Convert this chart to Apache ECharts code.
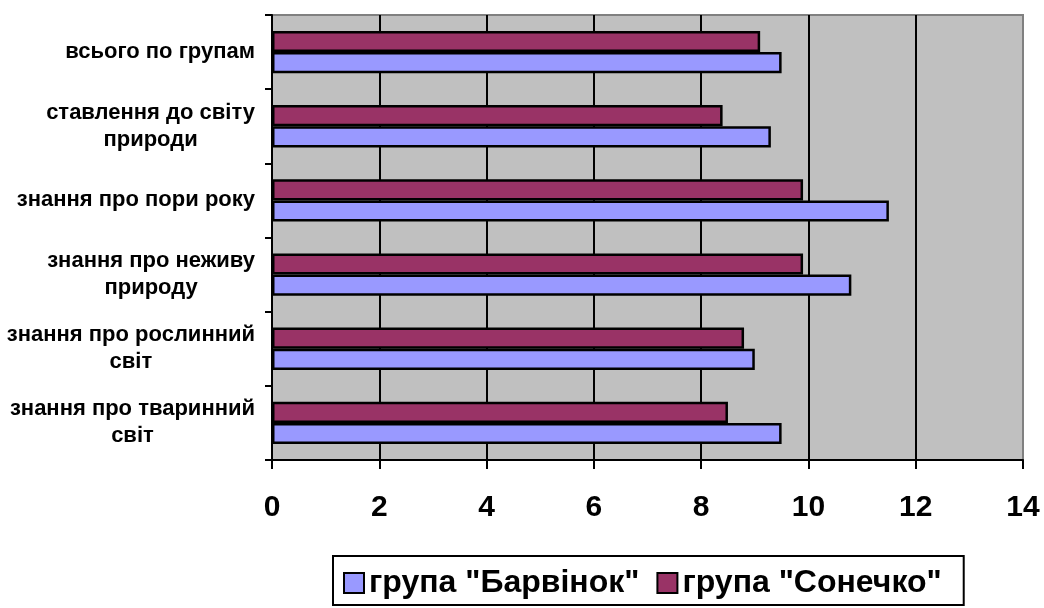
<!DOCTYPE html>
<html>
<head>
<meta charset="utf-8">
<script src="https://cdn.jsdelivr.net/npm/echarts@6/dist/echarts.min.js"></script>
<style>html,body{margin:0;padding:0;background:#fff}#c{width:1044px;height:608px}</style>
</head>
<body>
<div id="c"></div>
<script>
// Categories, bottom to top
const categories = [
  'знання про тваринний\nсвіт',
  'знання про рослинний\nсвіт',
  'знання про неживу\nприроду',
  'знання про пори року',
  'ставлення до світу\nприроди',
  'всього по групам'
];
const seriesNames = ['група "Барвінок"', 'група "Сонечко"'];
const barvinok = [9.5, 9.0, 10.8, 11.5, 9.3, 9.5];
const sonechko = [8.5, 8.8, 9.9, 9.9, 8.4, 9.1];
const xTicks = [0, 2, 4, 6, 8, 10, 12, 14];

const FONT = "'Liberation Sans', Arial, sans-serif";
const chart = echarts.init(document.getElementById('c'), null, {renderer: 'canvas'});
chart.setOption({
  animation: false,
  backgroundColor: '#ffffff',
  grid: {
    left: 272, right: 21, top: 15, bottom: 148,
    show: true, backgroundColor: '#C0C0C0', borderColor: '#808080', borderWidth: 2
  },
  legend: {
    data: seriesNames,
    left: 333, top: 556,
    orient: 'horizontal',
    padding: [11, 22, 6, 10],
    itemWidth: 20, itemHeight: 20, itemGap: 17,
    backgroundColor: '#ffffff', borderColor: '#000000', borderWidth: 2,
    icon: 'rect',
    textStyle: {fontFamily: FONT, fontWeight: 'bold', fontSize: 32, color: '#000', lineHeight: 32}
  },
  xAxis: {
    type: 'value', min: xTicks[0], max: xTicks[xTicks.length - 1], interval: 2,
    axisLine: {show: true, lineStyle: {color: '#000', width: 2}},
    axisTick: {show: true, inside: false, length: 9, lineStyle: {color: '#000', width: 2}},
    axisLabel: {margin: 33, fontFamily: FONT, fontWeight: 'bold', fontSize: 30, color: '#000', lineHeight: 30},
    splitLine: {show: true, lineStyle: {color: ['#000','#000','#000','#000','#000','#000','#000','#808080'], width: 2}}
  },
  yAxis: {
    type: 'category', data: categories,
    axisLine: {show: true, lineStyle: {color: '#000', width: 2}},
    axisTick: {show: true, inside: false, length: 7, lineStyle: {color: '#000', width: 2}},
    axisLabel: {
      margin: 17, align: 'right', color: '#000',
      fontFamily: FONT, fontWeight: 'bold', fontSize: 22, lineHeight: 27,
      formatter: v => v.split('\n').map(l => '{c|' + l + '}').join('\n'),
      rich: {c: {align: 'center', fontFamily: FONT, fontWeight: 'bold', fontSize: 22, lineHeight: 27, color: '#000'}}
    },
    splitLine: {show: false}
  },
  series: [
    {
      name: seriesNames[1], type: 'bar', data: sonechko,
      barGap: '0%', barCategoryGap: '43%',
      itemStyle: {color: '#993366', borderColor: '#000', borderWidth: 2.5}
    },
    {
      name: seriesNames[0], type: 'bar', data: barvinok,
      barGap: '0%', barCategoryGap: '43%',
      itemStyle: {color: '#9999FF', borderColor: '#000', borderWidth: 2.5}
    }
  ]
});
</script>
</body>
</html>
